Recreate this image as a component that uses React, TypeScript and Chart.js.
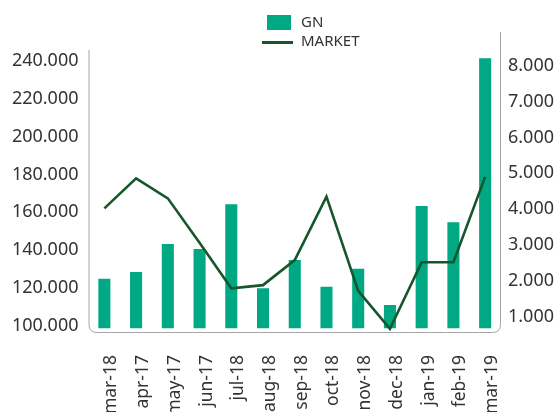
import React, { useEffect, useRef } from "react";
import { Chart, registerables } from "chart.js";

Chart.register(...registerables);

const categories = ["mar-18", "apr-17", "may-17", "jun-17", "jul-18", "aug-18", "sep-18", "oct-18", "nov-18", "dec-18", "jan-19", "feb-19", "mar-19"];
const gnValues = [125000, 128500, 143300, 140600, 164200, 119900, 134800, 120700, 130200, 111100, 163300, 154700, 241300];
const marketValues = [4020, 4860, 4300, 3060, 1790, 1880, 2580, 4350, 1720, 660, 2520, 2520, 4900];
const leftTicks = [100000, 120000, 140000, 160000, 180000, 200000, 220000, 240000];
const rightTicks = [1000, 2000, 3000, 4000, 5000, 6000, 7000, 8000];

const BAR_COLOR = "#00a884";
const LINE_COLOR = "#15572b";
const TEXT_COLOR = "#333333";
const FONT = "'Noto Sans', 'Open Sans', sans-serif";

const fmt = (v: number) => String(Math.round(v)).replace(/\B(?=(\d{3})+(?!\d))/g, ".");

const framePlugin = {
  id: "frame",
  beforeDatasetsDraw(chart: any) {
    const { ctx, chartArea } = chart;
    const l = chartArea.left + 0.5;
    const r = chartArea.right - 0.5;
    const b = chartArea.bottom - 0.5;
    const rad = 8;
    ctx.save();
    ctx.strokeStyle = "#a6a6a6";
    ctx.lineWidth = 1;
    ctx.beginPath();
    ctx.moveTo(l, chartArea.top + 18);
    ctx.lineTo(l, b - rad);
    ctx.quadraticCurveTo(l, b, l + rad, b);
    ctx.lineTo(r - rad, b);
    ctx.quadraticCurveTo(r, b, r, b - rad);
    ctx.lineTo(r, chartArea.top);
    ctx.stroke();
    ctx.restore();
  },
};

const legendPlugin = {
  id: "customLegend",
  afterDraw(chart: any) {
    const { ctx } = chart;
    const ds = chart.data.datasets;
    ctx.save();
    ctx.font = `15px ${FONT}`;
    ctx.textBaseline = "middle";
    ctx.textAlign = "left";
    ctx.fillStyle = ds[0].backgroundColor;
    ctx.fillRect(267, 15, 24, 15);
    ctx.fillStyle = TEXT_COLOR;
    ctx.fillText(ds[0].label, 301, 23);
    ctx.strokeStyle = ds[1].borderColor;
    ctx.lineWidth = 3;
    ctx.beginPath();
    ctx.moveTo(262, 42.5);
    ctx.lineTo(293, 42.5);
    ctx.stroke();
    ctx.fillText(ds[1].label, 301, 42);
    ctx.restore();
  },
};

export default function App() {
  const ref = useRef<HTMLCanvasElement | null>(null);

  useEffect(() => {
    document.body.style.margin = "0";
    if (!ref.current) return;
    const chart = new Chart(ref.current, {
      type: "bar",
      data: {
        labels: categories,
        datasets: [
          {
            type: "bar",
            label: "GN",
            data: gnValues,
            backgroundColor: BAR_COLOR,
            borderWidth: 0,
            yAxisID: "y",
            base: 98790,
            barPercentage: 0.38,
            categoryPercentage: 1,
            order: 2,
          } as any,
          {
            type: "line",
            label: "MARKET",
            data: marketValues,
            borderColor: LINE_COLOR,
            backgroundColor: LINE_COLOR,
            borderWidth: 2.6,
            pointRadius: 0,
            tension: 0,
            yAxisID: "y1",
            order: 1,
            clip: false,
          } as any,
        ],
      },
      options: {
        responsive: false,
        animation: false,
        layout: { padding: { top: 32, left: 0, right: 0, bottom: 0 } },
        plugins: {
          legend: { display: false },
          tooltip: { enabled: false },
        },
        scales: {
          x: {
            grid: { display: false, drawTicks: false },
            border: { display: false },
            ticks: {
              autoSkip: false,
              minRotation: 90,
              maxRotation: 90,
              padding: 22,
              labelOffset: 7,
              color: TEXT_COLOR,
              font: { family: FONT, size: 17.5 },
            },
            afterFit: (s: any) => {
              s.height = 79;
            },
          },
          y: {
            position: "left",
            min: 96310,
            max: 255150,
            grid: { display: false, drawTicks: false },
            border: { display: false },
            afterBuildTicks: (s: any) => {
              s.ticks = leftTicks.map((v) => ({ value: v }));
            },
            ticks: {
              padding: 10,
              color: TEXT_COLOR,
              font: { family: FONT, size: 18 },
              callback: (v: any) => fmt(Number(v)),
            },
            afterFit: (s: any) => {
              s.width = 88.5;
            },
          },
          y1: {
            position: "right",
            min: 545,
            max: 8940,
            grid: { display: false, drawTicks: false },
            border: { display: false },
            afterBuildTicks: (s: any) => {
              s.ticks = rightTicks.map((v) => ({ value: v }));
            },
            ticks: {
              padding: 7,
              color: TEXT_COLOR,
              font: { family: FONT, size: 18 },
              callback: (v: any) => fmt(Number(v)),
            },
            afterFit: (s: any) => {
              s.width = 56;
            },
          },
        },
      },
      plugins: [framePlugin, legendPlugin],
    });
    return () => chart.destroy();
  }, []);

  return (
    <div style={{ width: 557, height: 412, background: "#ffffff" }}>
      <canvas ref={ref} width={557} height={412} style={{ display: "block" }} />
    </div>
  );
}
